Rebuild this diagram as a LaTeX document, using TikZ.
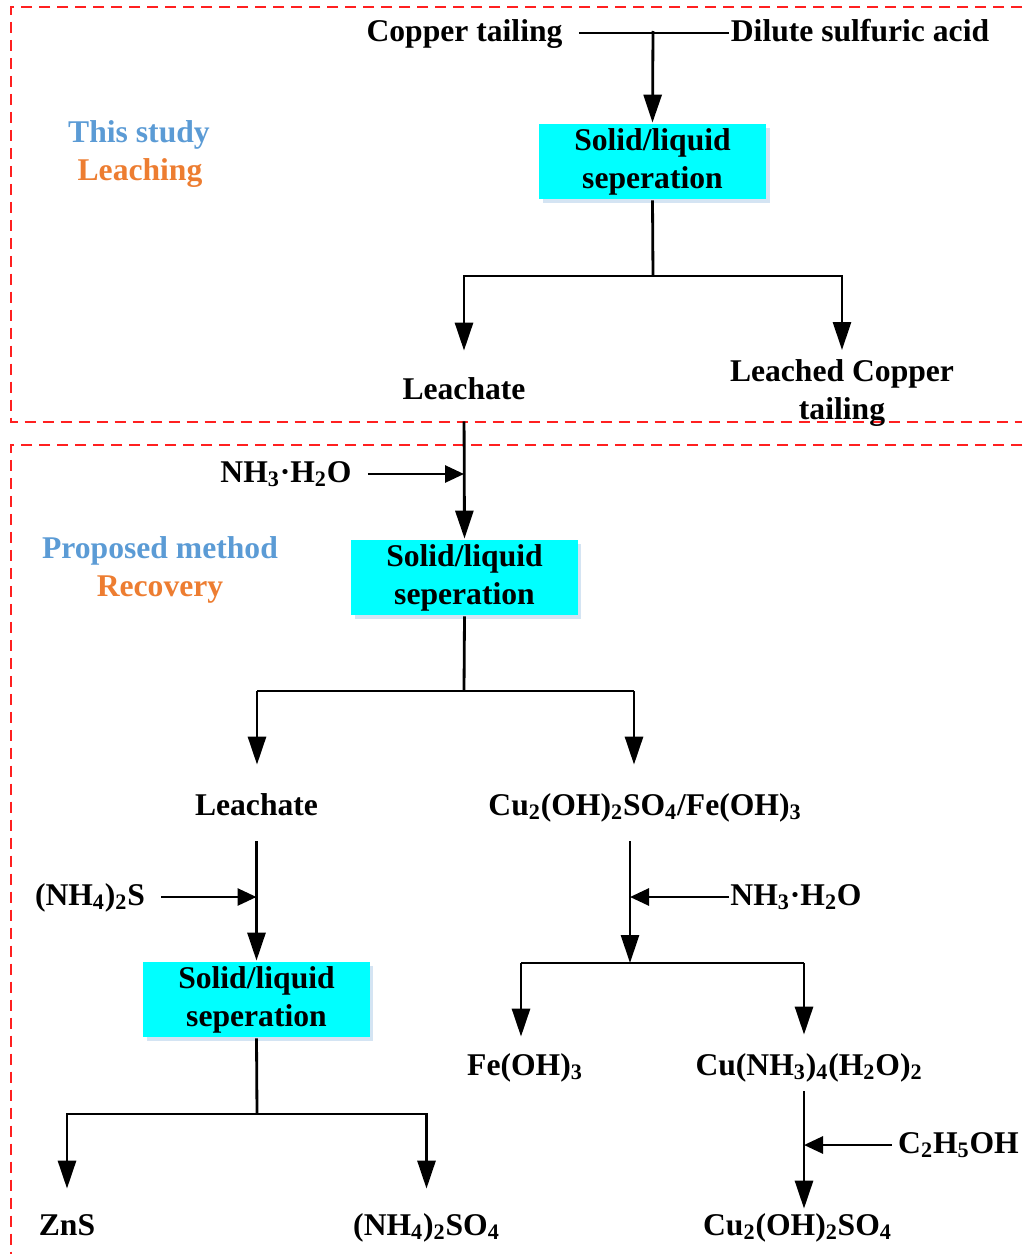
\documentclass[tikz,border=0pt]{standalone}
\usepackage{fontspec}
\setmainfont{Liberation Serif}
\usetikzlibrary{arrows.meta,shadows}

\definecolor{studyblue}{HTML}{5B9BD5}
\definecolor{studyorange}{HTML}{ED7D31}
\definecolor{sepcyan}{HTML}{00FFFF}
\definecolor{zonered}{HTML}{FF2020}
\definecolor{shadeblue}{HTML}{C9DDF0}

\tikzset{
  chem/.style={font=\fontsize{18}{21.6}\selectfont\bfseries, inner sep=0pt,
    text height=0.46cm, text depth=0.14cm, anchor=base},
  twoline/.style={font=\fontsize{18}{21.6}\selectfont\bfseries, inner sep=0pt,
    align=center, anchor=north},
  sepbox/.style={fill=sepcyan, align=center, inner sep=0pt,
    minimum width=4.54cm, minimum height=1.5cm, text depth=0.12cm,
    font=\fontsize{18}{21.6}\selectfont\bfseries,
    drop shadow={shadow xshift=2pt, shadow yshift=-2pt, fill=shadeblue, opacity=0.8}},
  down/.style={-{Triangle[length=0.56cm,width=0.36cm]}},
  side/.style={-{Triangle[length=0.38cm,width=0.34cm]}},
  zone/.style={zonered, line width=0.03cm, dash pattern=on 0.22cm off 0.14cm}
}

\begin{document}
\begin{tikzpicture}[x=0.02cm, y=-0.02cm, line width=1.6pt]
  \useasboundingbox (0,0) rectangle (1022,1254);

  % Draw the dashed zones
  \draw[zone] (1022,7) -- (11,7) -- (11,422) -- (1022,422);
  \draw[zone] (1022,445) -- (11,445) -- (11,1254);

  % Zone labels
  \node[chem, text=studyblue] (study) at (139,142) {This study};
  \node[chem, text=studyorange] (leaching) at (140,180) {Leaching};
  \node[chem, text=studyblue] (proposed) at (160,558) {Proposed method};
  \node[chem, text=studyorange] (recovery) at (160,596) {Recovery};

  % Leaching stage
  \node[chem] (copper) at (464.5,41) {Copper tailing};
  \node[chem] (acid) at (860,41) {Dilute sulfuric acid};
  \node[sepbox] (sep1) at (652.5,161.5) {Solid/liquid\\seperation};
  \node[chem] (leach1) at (464,399) {Leachate};
  \node[twoline] (leached) at (842,358) {Leached Copper\\tailing};

  \coordinate (j1) at (653,31);
  \coordinate (j2) at (653,276);
  \draw[shorten <=0.3cm] (copper.east) -- (acid.west);
  \draw[down] (j1) -- (sep1.north);
  \draw (sep1.south) -- (j2);
  \draw[down, shorten >=0.48cm] (j2) -| (leach1.north);
  \draw[down, shorten >=0.16cm] (j2) -| (leached.north);

  % Recovery stage, first separation
  \node[chem] (nh3a) at (286,482) {NH\textsubscript{3}·H\textsubscript{2}O};
  \node[sepbox] (sep2) at (464.5,577.5) {Solid/liquid\\seperation};
  \node[chem] (leach2) at (256.5,815) {Leachate};
  \node[chem] (cuoh) at (645,815) {Cu\textsubscript{2}(OH)\textsubscript{2}SO\textsubscript{4}/Fe(OH)\textsubscript{3}};

  \draw[down, shorten <=0.28cm] (leach1.south) -- (sep2.north);
  \draw[side, shorten <=0.3cm] (nh3a.east) -- (nh3a.east -| leach1.south);

  \coordinate (j3) at (464,691);
  \coordinate (b3l) at (257,691);
  \coordinate (b3r) at (634,691);
  \draw (sep2.south) -- (j3);
  \draw (b3l) -- (b3r);
  \draw[down, shorten >=0.52cm] (b3l) -- (b3l |- leach2.north);
  \draw[down, shorten >=0.52cm] (b3r) -- (b3r |- cuoh.north);

  % Zinc branch
  \node[chem] (nh4s) at (90,905) {(NH\textsubscript{4})\textsubscript{2}S};
  \node[sepbox] (sep3) at (256.5,999.5) {Solid/liquid\\seperation};
  \node[chem] (zns) at (67,1235) {ZnS};
  \node[chem] (nh4so4) at (426.5,1235) {(NH\textsubscript{4})\textsubscript{2}SO\textsubscript{4}};

  \draw[down, shorten <=0.36cm] (leach2.south) -- (leach2.south |- sep3.north);
  \draw[side, shorten <=0.3cm] (nh4s.east) -- (nh4s.east -| leach2.south);

  \coordinate (j4) at (257,1114);
  \draw (sep3.south) -- (j4);
  \draw[down, shorten >=0.44cm] (j4) -| (zns.north);
  \draw[down, shorten >=0.44cm] (j4) -| (nh4so4.north);

  % Copper branch
  \node[chem] (nh3b) at (796,905) {NH\textsubscript{3}·H\textsubscript{2}O};
  \node[chem] (feoh) at (525,1075) {Fe(OH)\textsubscript{3}};
  \node[chem] (cunh3) at (809,1075) {Cu(NH\textsubscript{3})\textsubscript{4}(H\textsubscript{2}O)\textsubscript{2}};
  \node[chem] (etoh) at (958.5,1153) {C\textsubscript{2}H\textsubscript{5}OH};
  \node[chem] (cu2) at (797.5,1235) {Cu\textsubscript{2}(OH)\textsubscript{2}SO\textsubscript{4}};

  \coordinate (j5) at (630,963);
  \coordinate (b5l) at (521,963);
  \coordinate (b5r) at (804,963);
  \draw[down, shorten <=0.36cm] (cuoh.south -| j5) -- (j5);
  \draw[side] (nh3b.west) -- (nh3b.west -| j5);
  \draw (b5l) -- (b5r);
  \draw[down, shorten >=0.28cm] (b5l) -- (b5l |- feoh.north);
  \draw[down, shorten >=0.32cm] (b5r) -- (b5r |- cunh3.north);

  \coordinate (j6) at (cunh3.south -| b5r);
  \draw[down, shorten <=0.16cm, shorten >=0.04cm] (j6) -- (j6 |- cu2.north);
  \draw[side, shorten <=0.1cm] (etoh.west) -- (etoh.west -| j6);

\end{tikzpicture}
\end{document}
